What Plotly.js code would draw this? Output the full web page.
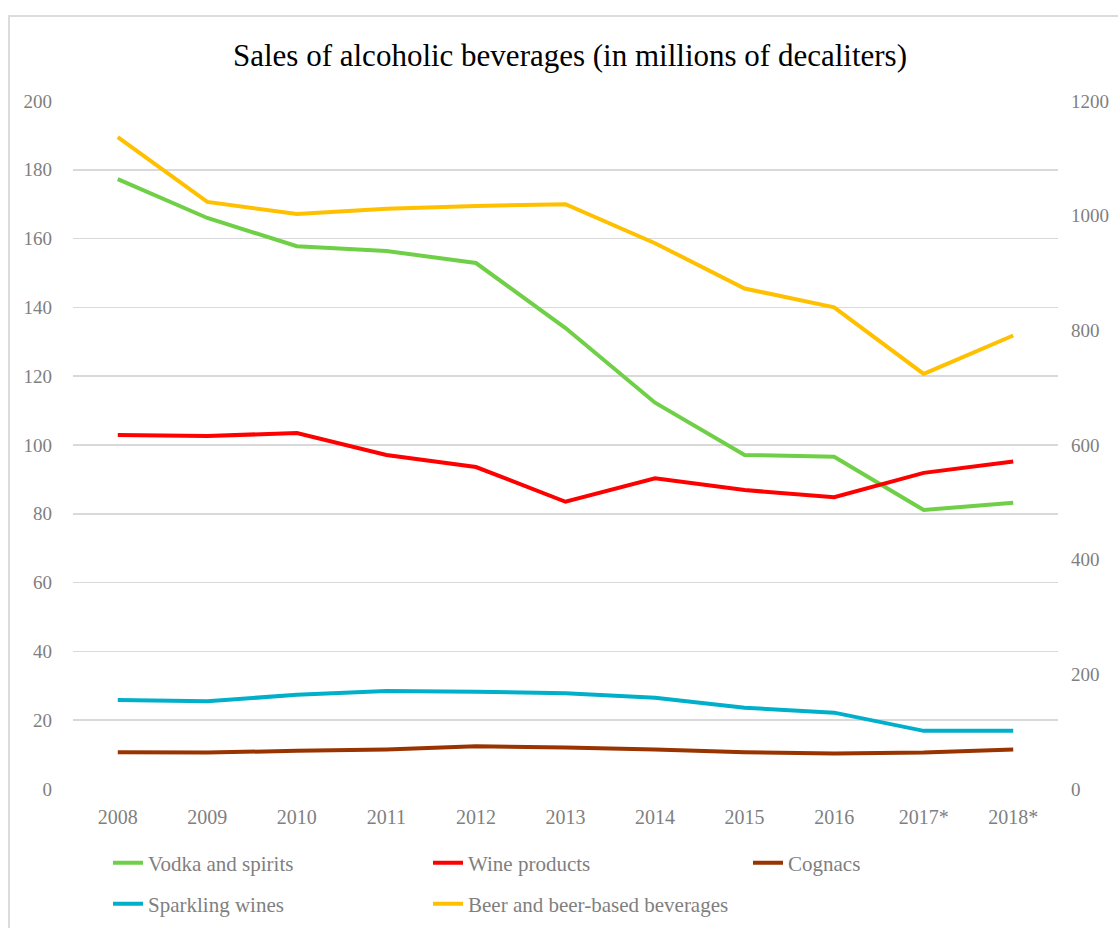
<!DOCTYPE html>
<html>
<head>
<meta charset="utf-8">
<script src="https://cdn.plot.ly/plotly-3.0.1.min.js"></script>
<style>
  html, body { margin: 0; padding: 0; background: #fff; }
  #wrap { position: relative; width: 1118px; height: 928px; overflow: hidden; }
  #chart { position: absolute; left: 0; top: 0; width: 1118px; height: 928px; }
  #frame { position: absolute; left: 8px; top: 15px; width: 1200px; height: 1000px;
           border: 2px solid #dcdcdc; pointer-events: none; }
</style>
</head>
<body>
<div id="wrap">
  <div id="chart"></div>
  <div id="frame"></div>
</div>
<script>
const years = ["2008", "2009", "2010", "2011", "2012", "2013", "2014", "2015", "2016", "2017*", "2018*"];
const vodka = [177.3, 166.0, 157.8, 156.4, 152.9, 134.0, 112.3, 97.1, 96.6, 81.1, 83.2];
const wine = [102.9, 102.6, 103.5, 97.1, 93.6, 83.5, 90.3, 86.9, 84.8, 91.9, 95.2];
const cognac = [10.7, 10.6, 11.1, 11.5, 12.4, 12.1, 11.5, 10.7, 10.3, 10.6, 11.5];
const sparkling = [25.9, 25.5, 27.4, 28.5, 28.3, 27.8, 26.5, 23.6, 22.2, 16.9, 16.9];
const beer = [1137, 1024, 1003, 1012, 1017, 1020, 952, 873, 840, 724, 791];

const FONT = "Liberation Serif, Times New Roman, serif";
const GRAY = "#7f7f7f";

const traces = [
  {x: years, y: vodka, name: "Vodka and spirits", type: "scatter", mode: "lines",
   line: {color: "#6fcf46", width: 4}, legend: "legend"},
  {x: years, y: wine, name: "Wine products", type: "scatter", mode: "lines",
   line: {color: "#ff0000", width: 4}, legend: "legend"},
  {x: years, y: cognac, name: "Cognacs", type: "scatter", mode: "lines",
   line: {color: "#993300", width: 4}, legend: "legend"},
  {x: years, y: sparkling, name: "Sparkling wines", type: "scatter", mode: "lines",
   line: {color: "#00afca", width: 4}, legend: "legend2"},
  {x: years, y: beer, name: "Beer and beer-based beverages", type: "scatter", mode: "lines",
   line: {color: "#ffc000", width: 4}, yaxis: "y2", legend: "legend2"}
];

const legendBase = {
  orientation: "h", xref: "container", yref: "container",
  xanchor: "left", yanchor: "middle",
  entrywidth: 275, entrywidthmode: "pixels",
  font: {family: FONT, size: 21, color: GRAY},
  bgcolor: "rgba(0,0,0,0)", traceorder: "normal", itemwidth: 30
};

const layout = {
  width: 1118, height: 928,
  margin: {l: 73, r: 60, t: 101, b: 139},
  paper_bgcolor: "#ffffff", plot_bgcolor: "#ffffff",
  font: {family: FONT, color: GRAY},
  title: {text: "Sales of alcoholic beverages (in millions of decaliters)",
          font: {family: FONT, size: 31, color: "#000000"},
          x: 570/1118, xref: "container", y: 1 - 55/928, yref: "container",
          xanchor: "center", yanchor: "middle"},
  showlegend: true,
  xaxis: {type: "category", range: [-0.5, 10.5], showgrid: false, zeroline: false, showline: false,
          ticks: "", tickfont: {family: FONT, size: 20, color: GRAY},
          ticklabelstandoff: 14},
  yaxis: {range: [0, 200], tickvals: [0, 20, 40, 60, 80, 100, 120, 140, 160, 180, 200],
          showgrid: true, gridcolor: "#d9d9d9", gridwidth: 1.5, zeroline: false,
          showline: false, ticks: "", tickfont: {family: FONT, size: 19, color: GRAY},
          ticklabelstandoff: 20},
  yaxis2: {range: [0, 1200], tickvals: [0, 200, 400, 600, 800, 1000, 1200],
           overlaying: "y", side: "right", showgrid: false, zeroline: false,
           showline: false, ticks: "", tickfont: {family: FONT, size: 19, color: GRAY},
           ticklabelstandoff: 12},
  legend: Object.assign({}, legendBase, {x: 108/1118, y: 1 - 863/928}),
  legend2: Object.assign({}, legendBase, {x: 108/1118, y: 1 - 904/928})
};

Plotly.newPlot("chart", traces, layout, {displayModeBar: false, staticPlot: true});
</script>
</body>
</html>
